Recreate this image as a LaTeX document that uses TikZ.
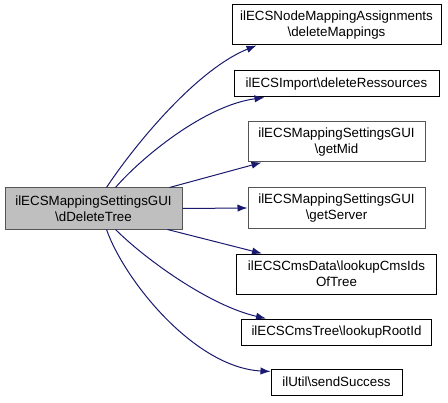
\documentclass[tikz,border=0pt]{standalone}
\usepackage{fontspec}
\setmainfont{Liberation Sans}
\usetikzlibrary{arrows.meta,calc}
\definecolor{edgeblue}{HTML}{191970}
\definecolor{mainfill}{HTML}{BFBFBF}
\definecolor{greyline}{HTML}{555555}
\begin{document}
\begin{tikzpicture}[x=0.75pt,y=-0.75pt,
  box/.style={draw=black,line width=0.75pt,fill=white,inner sep=0pt,align=center,font=\fontsize{10pt}{12pt}\selectfont,text=black},
  greybox/.style={box,draw=greyline},
  edge/.style={draw=edgeblue,line width=0.75pt,-{Latex[length=7.5pt,width=5.5pt]}}]
\useasboundingbox (0,0) rectangle (448,402);
\fill[white] (0,0) rectangle (448,402);
\node[greybox,fill=mainfill,minimum width=177*0.75pt,minimum height=41*0.75pt] (main) at (93.5,208.5) {ilECSMappingSettingsGUI\\\textbackslash dDeleteTree};
\node[box,minimum width=209*0.75pt,minimum height=40*0.75pt] (n1) at (336.5,25) {ilECSNodeMappingAssignments\\\textbackslash deleteMappings};
\node[box,minimum width=205*0.75pt,minimum height=26*0.75pt] (n2) at (336.5,84) {ilECSImport\textbackslash deleteRessources};
\node[greybox,minimum width=177*0.75pt,minimum height=40*0.75pt] (n3) at (336.5,142) {ilECSMappingSettingsGUI\\\textbackslash getMid};
\node[greybox,minimum width=177*0.75pt,minimum height=40*0.75pt] (n4) at (336.5,208) {ilECSMappingSettingsGUI\\\textbackslash getServer};
\node[box,minimum width=200*0.75pt,minimum height=40*0.75pt] (n5) at (336.5,274) {ilECSCmsData\textbackslash lookupCmsIds\\OfTree};
\node[box,minimum width=190*0.75pt,minimum height=26*0.75pt] (n6) at (336.5,332) {ilECSCmsTree\textbackslash lookupRootId};
\node[box,minimum width=131*0.75pt,minimum height=26*0.75pt] (n7) at (336.5,382) {ilUtil\textbackslash sendSuccess};
% edges
\draw[edge] ($(main.north west)+(102,0)$) .. controls ($(main.north west)+(127,-38)$) and ($(n1.south west)+(-37,25)$) .. ($(n1.south west)+(25,0)$);
\draw[edge] ($(main.north west)+(111,0)$) .. controls ($(main.north west)+(137,-30)$) and ($(n2.south west)+(-29,8)$) .. ($(n2.south west)+(31,0)$);
\draw[edge] ($(main.north west)+(165,0)$) -- ($(n3.south west)+(14,0)$);
\draw[edge] (main.east) -- (n4.west);
\draw[edge] ($(main.south west)+(163,0)$) -- ($(n5.north west)+(26,0)$);
\draw[edge] ($(main.south west)+(111,0)$) .. controls ($(main.south west)+(140,29)$) and ($(n6.north west)+(-32,-13)$) .. ($(n6.north west)+(25,0)$);
\draw[edge] ($(main.south west)+(102,0)$) .. controls ($(main.south west)+(120,51)$) and ($(n7.north west)+(-76,-1)$) .. ($(n7.north west)+(0,3)$);
\end{tikzpicture}
\end{document}
